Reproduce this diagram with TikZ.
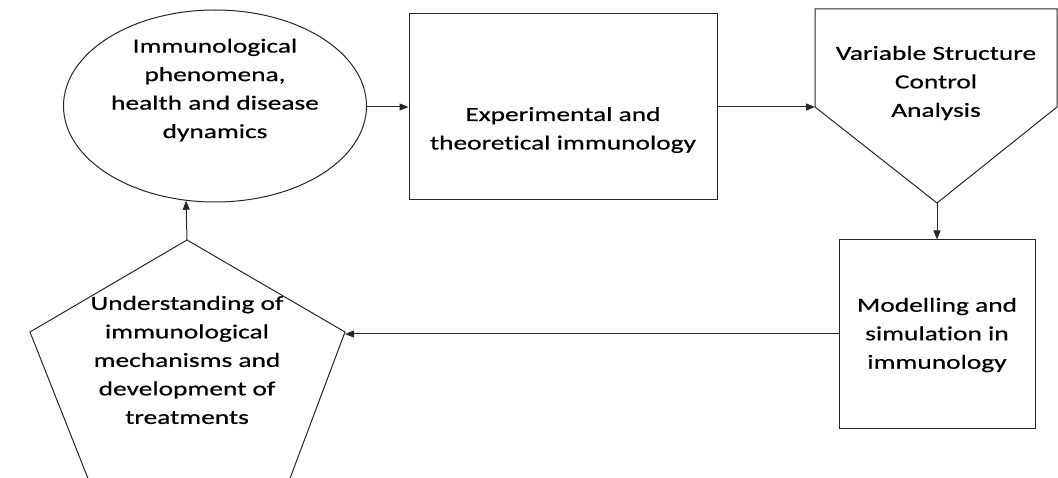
\documentclass[tikz,border=0pt]{standalone}
\usepackage{fontspec}
\setmainfont[FakeStretch=1.37,FakeBold=0.6,Ligatures=NoCommon]{Carlito}
\usetikzlibrary{arrows.meta,shapes.geometric}
\tikzset{
  shp/.style={draw=black!85, line width=1pt},
  txt/.style={align=center, font=\fontsize{20}{28.5}\selectfont, text=black, inner sep=0pt},
  conn/.style={draw=black!85, line width=1pt, -{Triangle[length=9pt,width=7pt]}}
}
\begin{document}
\begin{tikzpicture}[x=1pt,y=-1pt]
\useasboundingbox (0,0) rectangle (1058,478);
% ellipse
\node[shp, ellipse, minimum width=303pt, minimum height=192pt, inner sep=0pt] (ell) at (215,106) {};
\node[txt] (ellt) at (215,90) {Immunological\\phenomena,\\health and disease\\dynamics};
% box 1
\node[shp, rectangle, minimum width=308pt, minimum height=186pt, inner sep=0pt] (exp) at (563,107) {};
\node[txt] (expt) at (563,130) {Experimental and\\theoretical immunology};
% shield
\coordinate (vsTL) at (815,9);
\coordinate (vsTR) at (1057,9);
\coordinate (vsR) at (1057,107);
\coordinate (vsB) at (937,203);
\coordinate (vsL) at (815,107);
\draw[shp] (vsTL) -- (vsTR) -- (vsR) -- (vsB) -- (vsL) -- cycle;
\node[txt] (vst) at (936,83) {Variable Structure\\Control\\Analysis};
% modelling box
\node[shp, rectangle, minimum width=196pt, minimum height=188pt, inner sep=0pt] (mod) at (937,334) {};
\node[txt] (modt) at (937,335) {Modelling and\\simulation in\\immunology};
% pentagon
\coordinate (pT) at (187,240);
\coordinate (pR) at (345,332);
\coordinate (pBR) at (289,481);
\coordinate (pBL) at (89,481);
\coordinate (pL) at (30,332);
\draw[shp] (pT) -- (pR) -- (pBR) -- (pBL) -- (pL) -- cycle;
\node[txt] (pt) at (187,360) {Understanding of\\immunological\\mechanisms and\\development of\\treatments};
% connectors
\draw[conn] (ell.east |- exp.west) -- (exp.west);
\draw[conn] (exp.east |- vsL) -- (vsL);
\draw[conn] (vsB) -- (vsB |- mod.north);
\draw[conn] (mod.west) -- (mod.west -| pR);
\draw[conn] (pT) -- (ell.253.5);
\end{tikzpicture}
\end{document}
